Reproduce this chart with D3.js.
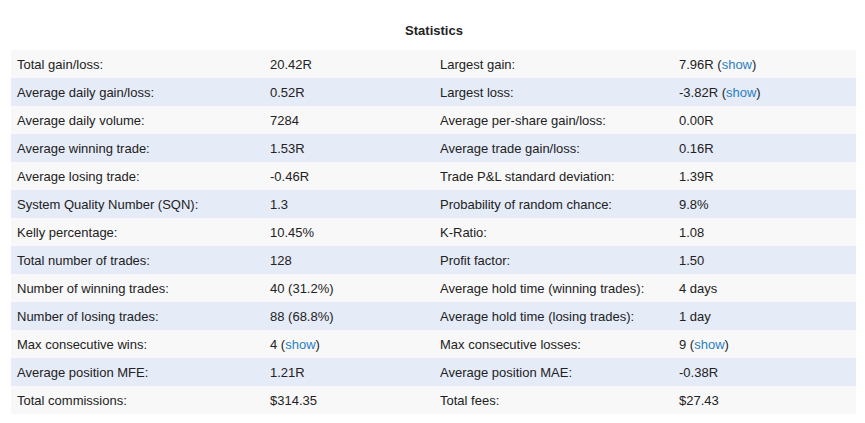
<!DOCTYPE html>
<html><head><meta charset="utf-8">
<script src="https://cdn.jsdelivr.net/npm/d3@7"></script>
<style>
body{margin:0;background:#fff;font-family:"Liberation Sans",Arial,sans-serif;}
text{font-size:13px;fill:#222;}
.link{fill:#2a7fc4;}
</style></head><body>
<svg id="c" width="865" height="423"></svg>
<script>
const leftLabels=["Total gain/loss:","Average daily gain/loss:","Average daily volume:","Average winning trade:","Average losing trade:","System Quality Number (SQN):","Kelly percentage:","Total number of trades:","Number of winning trades:","Number of losing trades:","Max consecutive wins:","Average position MFE:","Total commissions:"];
const leftValues=["20.42R","0.52R","7284","1.53R","-0.46R","1.3","10.45%","128","40 (31.2%)","88 (68.8%)","4","1.21R","$314.35"];
const leftShow=[false,false,false,false,false,false,false,false,false,false,true,false,false];
const rightLabels=["Largest gain:","Largest loss:","Average per-share gain/loss:","Average trade gain/loss:","Trade P&L standard deviation:","Probability of random chance:","K-Ratio:","Profit factor:","Average hold time (winning trades):","Average hold time (losing trades):","Max consecutive losses:","Average position MAE:","Total fees:"];
const rightValues=["7.96R","-3.82R","0.00R","0.16R","1.39R","9.8%","1.08","1.50","4 days","1 day","9","-0.38R","$27.43"];
const rightShow=[true,true,false,false,false,false,false,false,false,false,true,false,false];

const svg=d3.select("#c");
const y=d3.scaleBand().domain(d3.range(leftLabels.length)).range([50,414]);
svg.append("text").attr("x",434).attr("y",35).attr("text-anchor","middle")
  .style("font-weight","bold").text("Statistics");
const rows=svg.selectAll("g.row").data(d3.range(leftLabels.length)).join("g")
  .attr("transform",i=>`translate(0,${y(i)})`);
rows.append("rect").attr("x",11).attr("width",845).attr("height",y.bandwidth())
  .attr("fill",i=>i%2?"#e5ebf7":"#f8f8f8");
function cell(x,f){rows.append("text").attr("x",x).attr("y",y.bandwidth()/2+5).each(function(i){
  const t=d3.select(this);const [v,s]=f(i);t.append("tspan").text(v);
  if(s){t.append("tspan").text(" (");t.append("tspan").attr("class","link").text("show");t.append("tspan").text(")");}
});}
cell(17,i=>[leftLabels[i],false]);
cell(270,i=>[leftValues[i],leftShow[i]]);
cell(440,i=>[rightLabels[i],false]);
cell(679,i=>[rightValues[i],rightShow[i]]);
</script></body></html>
